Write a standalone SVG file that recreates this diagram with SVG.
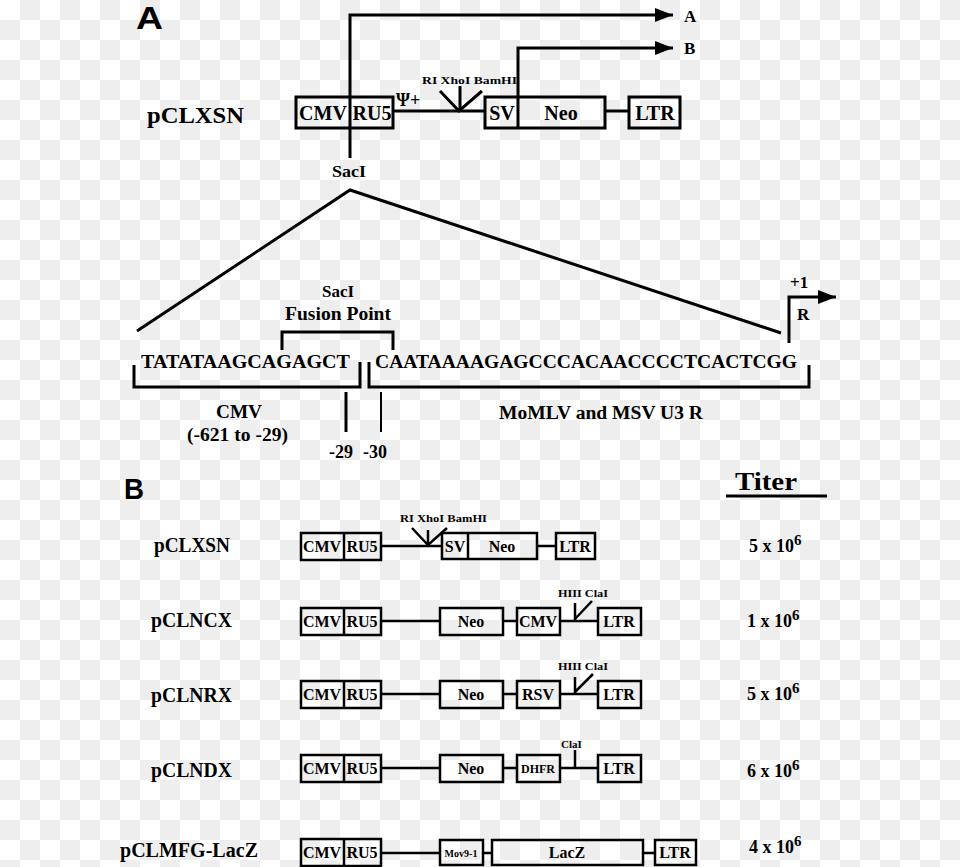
<svg xmlns="http://www.w3.org/2000/svg" width="960" height="867" viewBox="0 0 960 867">
<defs>
<pattern id="chk" width="40" height="40" patternUnits="userSpaceOnUse">
<rect width="40" height="40" fill="#ffffff"/>
<rect x="20" y="0" width="20" height="20" fill="#eeeeee"/>
<rect x="0" y="20" width="20" height="20" fill="#eeeeee"/>
</pattern>
<marker id="arr" markerUnits="userSpaceOnUse" markerWidth="20" markerHeight="14" refX="18" refY="7" orient="auto">
<path d="M0,0 L18,7 L0,14 z" fill="#000"/>
</marker>
</defs>
<style>
text{font-family:"Liberation Serif","Times New Roman",serif;font-weight:bold;fill:#000}
.sans{font-family:"Liberation Sans",Arial,sans-serif;font-weight:bold}
.bx{fill:none;stroke:#000;stroke-width:3}
.bxb{fill:none;stroke:#000;stroke-width:2.5}
.ln{fill:none;stroke:#000;stroke-width:3}
.lnb{fill:none;stroke:#000;stroke-width:2.5}
.thin{fill:none;stroke:#000;stroke-width:2}
.ta{font-size:20px}
.tb{font-size:16px}
.lab{font-size:20px}
.sm{font-size:11px}
.mid{text-anchor:middle}
</style>
<rect width="960" height="867" fill="url(#chk)"/>

<!-- Part A -->
<text id="labelA" class="sans" x="136" y="29" font-size="31" textLength="27" lengthAdjust="spacingAndGlyphs">A</text>
<text id="pCLXSN-A" x="147" y="123" font-size="24" textLength="97" lengthAdjust="spacingAndGlyphs">pCLXSN</text>

<g id="connectorsA">
<path class="ln" d="M350,97 V15 H673" marker-end="url(#arr)"/>
<path class="ln" d="M518,97 V48 H673" marker-end="url(#arr)"/>
<path class="ln" d="M393,111 H485"/>
<path class="ln" d="M605,111 H629"/>
<path class="ln" d="M350,128 V158"/>
<path class="ln" d="M137,331 L350,190 L781,333"/>
<path class="ln" d="M789,343 V297 H836" marker-end="url(#arr)"/>
<path class="ln" d="M282,350 V332 H393 V350"/>
<path class="ln" d="M134,365 V387 H360 V362"/>
<path class="ln" d="M369,362 V387 H809 V365"/>
<path class="ln" d="M346,392 V432"/>
<path class="thin" d="M381,392 V432"/>
<path class="ln" d="M440,91 L459,111 L482,91 M460,86 V111"/>
</g>
<text x="684" y="22" font-size="17">A</text>
<text x="684" y="54" font-size="17">B</text>

<g id="A-cmvru5">
<rect class="bx" x="296" y="97" width="97" height="31"/>
<line class="ln" x1="350" y1="97" x2="350" y2="128"/>
<text class="ta mid" x="323" y="120">CMV</text>
<text class="ta mid" x="372" y="120">RU5</text>
</g>
<text x="396" y="106" font-size="18">Ψ+</text>
<text x="422" y="84" font-size="11" textLength="95" lengthAdjust="spacingAndGlyphs">RI XhoI BamHI</text>
<g id="A-svneo">
<rect class="bx" x="485" y="97" width="120" height="31"/>
<line class="ln" x1="518" y1="97" x2="518" y2="128"/>
<text class="ta mid" x="502" y="120">SV</text>
<text class="ta mid" x="561" y="120">Neo</text>
</g>
<g id="A-ltr">
<rect class="bx" x="629" y="97" width="51" height="31"/>
<text class="ta mid" x="655" y="120">LTR</text>
</g>
<text x="332" y="177" font-size="17" textLength="34" lengthAdjust="spacingAndGlyphs">SacI</text>

<text class="mid" x="338" y="297" font-size="17">SacI</text>
<text x="285" y="320" font-size="18" textLength="106" lengthAdjust="spacingAndGlyphs">Fusion Point</text>
<text x="790" y="288" font-size="17">+1</text>
<text x="797" y="320" font-size="17">R</text>
<text x="141" y="368" font-size="18" textLength="209" lengthAdjust="spacingAndGlyphs">TATATAAGCAGAGCT</text>
<text x="375" y="368" font-size="18" textLength="422" lengthAdjust="spacingAndGlyphs">CAATAAAAGAGCCCACAACCCCTCACTCGG</text>
<text x="216" y="418" font-size="18" textLength="46" lengthAdjust="spacingAndGlyphs">CMV</text>
<text x="187" y="441" font-size="18" textLength="101" lengthAdjust="spacingAndGlyphs">(-621 to -29)</text>
<text x="329" y="458" font-size="18">-29</text>
<text x="363" y="458" font-size="18">-30</text>
<text x="499" y="419" font-size="18" textLength="204" lengthAdjust="spacingAndGlyphs">MoMLV and MSV U3 R</text>

<!-- Part B -->
<text id="labelB" class="sans" x="124" y="499" font-size="30" textLength="20" lengthAdjust="spacingAndGlyphs">B</text>
<text x="735" y="490" font-size="25" textLength="62" lengthAdjust="spacingAndGlyphs">Titer</text>
<line x1="726" y1="496" x2="827" y2="496" stroke="#000" stroke-width="3"/>

<g id="connectorsB">
<path class="lnb" d="M381,546 H442 M537,546 H556"/>
<path class="lnb" d="M412,528 L428,545 L447,528 M428,530 V545"/>
<path class="lnb" d="M381,621 H440 M503,621 H517 M560,621 H598"/>
<path class="lnb" d="M575,603 V620 M592,601 L575,619"/>
<path class="lnb" d="M381,694 H440 M503,694 H517 M560,694 H598"/>
<path class="lnb" d="M575,677 V693 M593,674 L575,692"/>
<path class="lnb" d="M381,768 H440 M503,768 H517 M560,768 H598"/>
<path class="lnb" d="M575,750 V768"/>
<path class="lnb" d="M381,853 H440 M483,853 H492 M643,853 H655"/>
</g>

<!-- Row 1 -->
<text x="154" y="552" class="lab" textLength="76" lengthAdjust="spacingAndGlyphs">pCLXSN</text>
<g id="B1-cmvru5">
<rect class="bxb" x="301" y="533" width="80" height="27"/>
<line class="lnb" x1="344" y1="533" x2="344" y2="560"/>
<text class="tb mid" x="322" y="552">CMV</text>
<text class="tb mid" x="362" y="552">RU5</text>
</g>
<text x="400" y="522" class="sm" textLength="87" lengthAdjust="spacingAndGlyphs">RI XhoI BamHI</text>
<g id="B1-svneo">
<rect class="bxb" x="442" y="533" width="95" height="26"/>
<line class="lnb" x1="468" y1="533" x2="468" y2="559"/>
<text class="tb mid" x="455" y="552">SV</text>
<text class="tb mid" x="502" y="552">Neo</text>
</g>
<g id="B1-ltr">
<rect class="bxb" x="556" y="533" width="39" height="26"/>
<text class="tb mid" x="575" y="552">LTR</text>
</g>
<text x="749" y="552" font-size="18">5 x 10<tspan font-size="15" dy="-7">6</tspan></text>

<!-- Row 2 -->
<text x="151" y="627" class="lab" textLength="81" lengthAdjust="spacingAndGlyphs">pCLNCX</text>
<g id="B2-cmvru5">
<rect class="bxb" x="301" y="608" width="80" height="27"/>
<line class="lnb" x1="344" y1="608" x2="344" y2="635"/>
<text class="tb mid" x="322" y="627">CMV</text>
<text class="tb mid" x="362" y="627">RU5</text>
</g>
<g id="B2-neo">
<rect class="bxb" x="440" y="608" width="63" height="27"/>
<text class="tb mid" x="471" y="627">Neo</text>
</g>
<g id="B2-cmv">
<rect class="bxb" x="517" y="608" width="43" height="27"/>
<text class="tb mid" x="538" y="627">CMV</text>
</g>
<text x="558" y="597" class="sm" textLength="50" lengthAdjust="spacingAndGlyphs">HIII ClaI</text>
<g id="B2-ltr">
<rect class="bxb" x="598" y="608" width="43" height="27"/>
<text class="tb mid" x="619" y="627">LTR</text>
</g>
<text x="747" y="627" font-size="18">1 x 10<tspan font-size="15" dy="-7">6</tspan></text>

<!-- Row 3 -->
<text x="151" y="702" class="lab" textLength="81" lengthAdjust="spacingAndGlyphs">pCLNRX</text>
<g id="B3-cmvru5">
<rect class="bxb" x="301" y="681" width="80" height="27"/>
<line class="lnb" x1="344" y1="681" x2="344" y2="708"/>
<text class="tb mid" x="322" y="700">CMV</text>
<text class="tb mid" x="362" y="700">RU5</text>
</g>
<g id="B3-neo">
<rect class="bxb" x="440" y="681" width="63" height="27"/>
<text class="tb mid" x="471" y="700">Neo</text>
</g>
<g id="B3-rsv">
<rect class="bxb" x="517" y="681" width="43" height="27"/>
<text class="tb mid" x="538" y="700">RSV</text>
</g>
<text x="558" y="670" class="sm" textLength="50" lengthAdjust="spacingAndGlyphs">HIII ClaI</text>
<g id="B3-ltr">
<rect class="bxb" x="598" y="681" width="43" height="27"/>
<text class="tb mid" x="619" y="700">LTR</text>
</g>
<text x="747" y="700" font-size="18">5 x 10<tspan font-size="15" dy="-7">6</tspan></text>

<!-- Row 4 -->
<text x="151" y="777" class="lab" textLength="81" lengthAdjust="spacingAndGlyphs">pCLNDX</text>
<g id="B4-cmvru5">
<rect class="bxb" x="301" y="755" width="80" height="27"/>
<line class="lnb" x1="344" y1="755" x2="344" y2="782"/>
<text class="tb mid" x="322" y="774">CMV</text>
<text class="tb mid" x="362" y="774">RU5</text>
</g>
<g id="B4-neo">
<rect class="bxb" x="440" y="755" width="63" height="27"/>
<text class="tb mid" x="471" y="774">Neo</text>
</g>
<g id="B4-dhfr">
<rect class="bxb" x="517" y="755" width="43" height="27"/>
<text x="538" y="773" class="mid" font-size="12">DHFR</text>
</g>
<text x="561" y="748" class="sm">ClaI</text>
<g id="B4-ltr">
<rect class="bxb" x="598" y="755" width="43" height="27"/>
<text class="tb mid" x="619" y="774">LTR</text>
</g>
<text x="747" y="777" font-size="18">6 x 10<tspan font-size="15" dy="-7">6</tspan></text>

<!-- Row 5 -->
<text x="120" y="857" class="lab" textLength="138" lengthAdjust="spacingAndGlyphs">pCLMFG-LacZ</text>
<g id="B5-cmvru5">
<rect class="bxb" x="301" y="839" width="80" height="27"/>
<line class="lnb" x1="344" y1="839" x2="344" y2="866"/>
<text class="tb mid" x="322" y="858">CMV</text>
<text class="tb mid" x="362" y="858">RU5</text>
</g>
<g id="B5-mov">
<rect class="bxb" x="440" y="840" width="43" height="25"/>
<text x="461" y="857" class="mid" font-size="10">Mov9-1</text>
</g>
<g id="B5-lacz">
<rect class="bxb" x="492" y="840" width="151" height="25"/>
<text class="tb mid" x="567" y="858">LacZ</text>
</g>
<g id="B5-ltr">
<rect class="bxb" x="655" y="840" width="41" height="25"/>
<text class="tb mid" x="675" y="858">LTR</text>
</g>
<text x="749" y="853" font-size="18">4 x 10<tspan font-size="15" dy="-7">6</tspan></text>
</svg>
